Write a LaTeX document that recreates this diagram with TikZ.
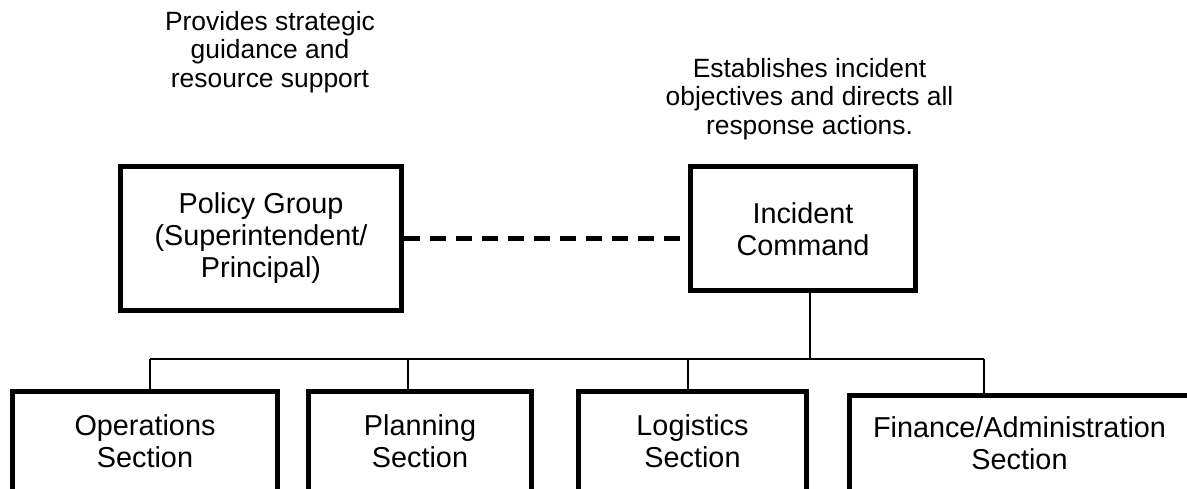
\documentclass[tikz,border=0pt]{standalone}
\usepackage{fontspec}
\setmainfont{Liberation Sans}
\begin{document}
\begin{tikzpicture}[x=1pt,y=-1pt,
  unitbox/.style={draw=black,line width=5pt,rectangle,inner sep=0pt,align=center,
    font=\fontsize{28.8}{32}\selectfont},
  note/.style={align=center,inner sep=0pt,font=\fontsize{26.4}{28.7}\selectfont},
  link/.style={draw=black,line width=2.2pt},
  peer/.style={draw=black,line width=5pt,dash pattern=on 16pt off 10pt}]
\useasboundingbox (0,0) rectangle (1187,489);
\clip (0,0) rectangle (1187,489);

% command level
\node[unitbox,minimum width=281pt,minimum height=144pt] (pol) at (261,238.5)
  {Policy Group\\(Superintendent/\\Principal)};
\node[unitbox,minimum width=225pt,minimum height=123.5pt] (inc) at (803,228.75)
  {Incident\\Command};

% descriptions above the command boxes
\node[note] (polnote) at (270,52) {Provides strategic\\guidance and\\resource support};
\node[note] (incnote) at (809.5,99) {Establishes incident\\objectives and directs all\\response actions.};

% general staff sections
\node[unitbox,minimum width=265pt,minimum height=99.5pt] (ops) at (145,441.25)
  {Operations\\Section};
\node[unitbox,minimum width=223pt,minimum height=99.5pt] (plan) at (420,441.25)
  {Planning\\Section};
\node[unitbox,minimum width=228pt,minimum height=99.5pt] (log) at (692.5,441.25)
  {Logistics\\Section};
\node[unitbox,minimum width=340pt,minimum height=95.5pt] (fin) at (1019.5,443.25)
  {Finance/Administration\\Section};

% coordination link between policy group and command
\draw[peer] (pol.east |- 0,239) -- (inc.west |- 0,239);

% reporting bus
\coordinate (jn) at (810,359);
\coordinate (busL) at (150,359);
\coordinate (dPlan) at (408,359);
\coordinate (dLog) at (688,359);
\coordinate (busR) at (984,359);
\draw[link] (jn |- inc.south) -- (jn);
\draw[link] (busL) -- (busR);
\draw[link] (busL) -- (busL |- ops.north);
\draw[link] (dPlan) -- (dPlan |- plan.north);
\draw[link] (dLog) -- (dLog |- log.north);
\draw[link] (busR) -- (busR |- fin.north);
\end{tikzpicture}
\end{document}
